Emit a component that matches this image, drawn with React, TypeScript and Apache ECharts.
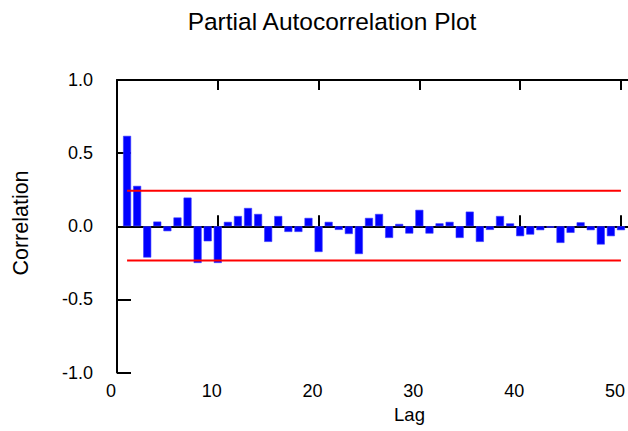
import React, { useEffect, useRef } from "react";
import * as echarts from "echarts";

const lags = [
  1, 2, 3, 4, 5, 6, 7, 8, 9, 10,
  11, 12, 13, 14, 15, 16, 17, 18, 19, 20,
  21, 22, 23, 24, 25, 26, 27, 28, 29, 30,
  31, 32, 33, 34, 35, 36, 37, 38, 39, 40,
  41, 42, 43, 44, 45, 46, 47, 48, 49, 50,
];

const pacf = [
  0.618, 0.276, -0.214, 0.032, -0.034, 0.06, 0.196, -0.251, -0.103, -0.251,
  0.03, 0.07, 0.125, 0.084, -0.107, 0.07, -0.039, -0.039, 0.057, -0.176,
  0.03, -0.025, -0.053, -0.19, 0.057, 0.084, -0.08, 0.016, -0.05, 0.112,
  -0.05, 0.02, 0.03, -0.08, 0.1, -0.107, -0.025, 0.07, 0.02, -0.068,
  -0.057, -0.027, -0.01, -0.114, -0.045, 0.027, -0.027, -0.125, -0.068, -0.027,
];

const limitLags = [1, 50];
const upperLimit = 0.243;
const lowerLimit = -0.235;

const xTicks = [0, 10, 20, 30, 40, 50];
const yTicks = [-1, -0.5, 0, 0.5, 1];

const FONT = "'Liberation Sans', Arial, sans-serif";

export default function App() {
  const ref = useRef<HTMLDivElement>(null);

  useEffect(() => {
    if (!ref.current) return;
    const chart = echarts.init(ref.current, null, { renderer: "svg" });
    const axisLine = { show: true, lineStyle: { color: "#000", width: 2 } };
    chart.setOption({
      animation: false,
      backgroundColor: "#fff",
      grid: { left: 117, right: 0, top: 80, bottom: 58.5, containLabel: false },
      xAxis: [
        {
          type: "value",
          position: "bottom",
          min: 0,
          max: 50.7,
          interval: 10,
          axisLine,
          axisTick: {
            show: true,
            inside: true,
            length: 11,
            customValues: xTicks,
            lineStyle: { color: "#000", width: 2 },
          },
          axisLabel: {
            show: true,
            customValues: xTicks,
            color: "#000",
            fontSize: 18,
            fontFamily: FONT,
            margin: 9,
            padding: [0, 12, 0, 0],
          },
          splitLine: { show: false },
        },
        {
          type: "value",
          position: "top",
          min: 0,
          max: 50.7,
          interval: 10,
          axisLine,
          axisTick: {
            show: true,
            inside: true,
            length: 10,
            customValues: xTicks,
            lineStyle: { color: "#000", width: 2 },
          },
          axisLabel: { show: false },
          splitLine: { show: false },
        },
      ],
      yAxis: {
        type: "value",
        min: yTicks[0],
        max: yTicks[yTicks.length - 1],
        interval: 0.5,
        axisLine,
        axisTick: { show: true, inside: true, length: 14, lineStyle: { color: "#000", width: 2 } },
        axisLabel: {
          color: "#000",
          fontSize: 18,
          fontFamily: FONT,
          margin: 24,
          formatter: (v: number) => v.toFixed(1),
        },
        splitLine: { show: false },
      },
      series: [
        {
          type: "bar",
          xAxisIndex: 0,
          barWidth: 8,
          data: lags.map((l, i) => [l, pacf[i]]),
          itemStyle: { color: "#0000ff", borderColor: "#3a3aff", borderWidth: 0.6 },
        },
        {
          type: "line",
          xAxisIndex: 0,
          symbol: "none",
          data: limitLags.map((l) => [l, upperLimit]),
          lineStyle: { color: "#ff0000", width: 2 },
        },
        {
          type: "line",
          xAxisIndex: 0,
          symbol: "none",
          data: limitLags.map((l) => [l, lowerLimit]),
          lineStyle: { color: "#ff0000", width: 2 },
        },
      ],
      graphic: [
        {
          type: "text",
          x: 332,
          y: 21,
          style: {
            text: "Partial Autocorrelation Plot",
            fontSize: 24.5,
            fontFamily: FONT,
            fill: "#000",
            align: "center",
            verticalAlign: "middle",
          },
        },
        {
          type: "text",
          x: 21,
          y: 223,
          rotation: Math.PI / 2,
          style: {
            text: "Correlation",
            fontSize: 21.5,
            fontFamily: FONT,
            fill: "#000",
            align: "center",
            verticalAlign: "middle",
          },
        },
        {
          type: "text",
          x: 409.5,
          y: 414,
          style: {
            text: "Lag",
            fontSize: 18.5,
            fontFamily: FONT,
            fill: "#000",
            align: "center",
            verticalAlign: "middle",
          },
        },
      ],
    });
    return () => chart.dispose();
  }, []);

  return (
    <div
      ref={ref}
      style={{ position: "fixed", left: 0, top: 0, width: 628, height: 431, background: "#fff" }}
    />
  );
}
